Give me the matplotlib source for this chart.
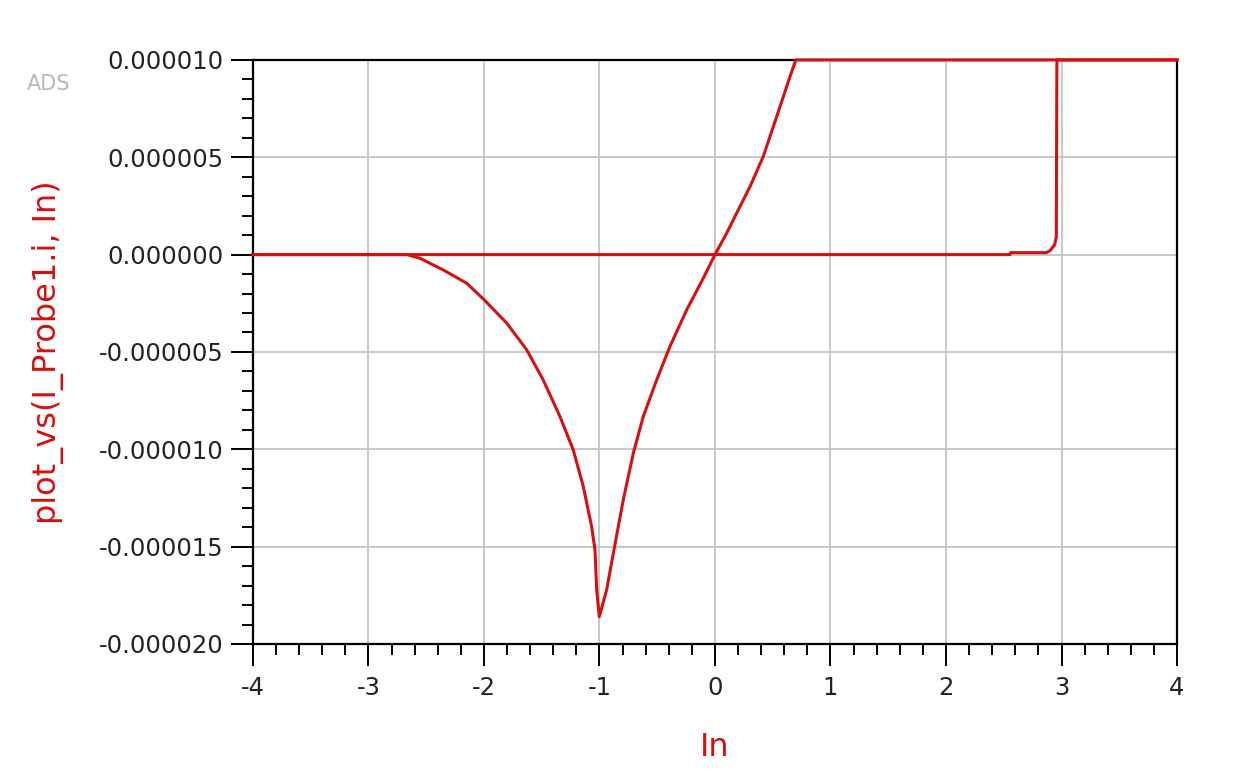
import matplotlib
matplotlib.use("Agg")
import matplotlib.pyplot as plt
import matplotlib.ticker as tick
import numpy as np

# sweep curve (V shaped one), y in uA
sweep_x = [-4.0, -3.0, -2.667, -2.554, -2.352, -2.150, -1.997, -1.803, -1.630, -1.487,
           -1.342, -1.227, -1.140, -1.068, -1.039, -1.024, -1.002, -0.938, -0.880,
           -0.794, -0.707, -0.621, -0.505, -0.390, -0.245, -0.101, 0.0, 0.101, 0.188,
           0.303, 0.418, 0.563, 0.649, 0.70, 4.0]
sweep_y = [0, 0, 0, -0.19, -0.79, -1.47, -2.33, -3.52, -4.89, -6.44,
           -8.32, -10.03, -11.92, -13.97, -15.17, -17.22, -18.6, -17.22, -15.34,
           -12.6, -10.2, -8.32, -6.44, -4.72, -2.84, -1.21, 0, 1.1, 2.13,
           3.49, 5.04, 7.6, 9.14, 10, 10]

# step curve, y in uA
step_x = [-4.0, 2.554, 2.56, 2.87, 2.90, 2.94, 2.955, 2.96, 4.0]
step_y = [0, 0, 0.1, 0.1, 0.2, 0.5, 0.9, 10, 10]

red = "#d41010"
txt = "#222222"

fig = plt.figure(figsize=(12.37, 7.84), dpi=100)
ax = fig.add_axes([0.2045, 0.1786, 0.747, 0.745])

ax.plot(sweep_x, np.array(sweep_y) * 1e-6, color=red, lw=2.2, clip_on=False, zorder=5)
ax.plot(step_x, np.array(step_y) * 1e-6, color=red, lw=2.2, clip_on=False, zorder=5)

ax.set_xlim(-4, 4)
ax.set_ylim(-20e-6, 10e-6)
ax.xaxis.set_major_locator(tick.MultipleLocator(1))
ax.xaxis.set_minor_locator(tick.MultipleLocator(0.2))
ax.yaxis.set_major_locator(tick.MultipleLocator(5e-6))
ax.yaxis.set_minor_locator(tick.MultipleLocator(1e-6))
ax.xaxis.set_major_formatter(tick.FormatStrFormatter("%d"))
ax.yaxis.set_major_formatter(tick.FormatStrFormatter("%.6f"))

ax.grid(True, which="major", color="#c4c4c4", lw=1.3)
ax.set_axisbelow(True)
for s in ax.spines.values():
    s.set_color("black")
    s.set_linewidth(1.6)

ax.tick_params(which="major", length=16, width=1.4, color="black",
               labelsize=17.5, labelcolor=txt, pad=5)
ax.tick_params(which="minor", length=8, width=1.4, color="black")
ax.tick_params(axis="x", which="major", pad=7)

ax.set_xlabel("In", color=red, fontsize=23, labelpad=23)
ax.set_ylabel("plot_vs(I_Probe1.i, In)", color=red, fontsize=23, labelpad=25)

fig.text(0.039, 0.893, "ADS", color="#b8b8b8", fontsize=15, ha="center", va="center")

fig.savefig("out.png", dpi=100)
